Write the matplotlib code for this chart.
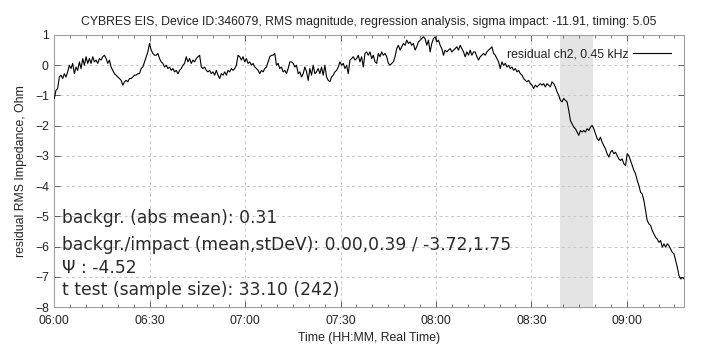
import numpy as np
import matplotlib
matplotlib.use("Agg")
import matplotlib.pyplot as plt
from matplotlib.ticker import MultipleLocator, FuncFormatter

# ---- data -------------------------------------------------------------
start_time = "06:00"
end_time = "09:18"
impact_start = "08:39"
impact_end = "08:49:20"

values = [
    # 06:00 - 06:32
    -1.10, -0.83, -0.77, -0.39, -0.33, -0.44, -0.28, -0.39, -0.22, 0.00,
    -0.11, 0.06, -0.28, -0.06, -0.17, 0.11, -0.11, 0.22, 0.00, 0.28,
    0.06, 0.22, 0.06, 0.28, 0.11, 0.17, 0.06, 0.22, 0.17, 0.28,
    0.33, 0.22, 0.06, 0.17, -0.06, -0.17, -0.28, -0.33, -0.39, -0.44,
    -0.50, -0.66, -0.55, -0.50, -0.55, -0.44, -0.44, -0.39, -0.33, -0.33,
    -0.28, -0.28, -0.11, -0.06, 0.11, 0.28, 0.44, 0.72, 0.50, 0.39,
    0.33, 0.33, 0.39,
    # 06:33 - 07:05
    0.22, 0.11, 0.06, -0.06, 0.00, -0.11, -0.06, -0.17, -0.11, -0.22,
    -0.17, -0.28, -0.17, -0.11, 0.00, 0.06, 0.28, 0.11, 0.22, 0.06,
    0.17, 0.11, 0.22, 0.28, 0.33, -0.06, -0.11, -0.06, -0.17, -0.22,
    -0.17, -0.28, -0.22, -0.33, -0.17, -0.33, -0.44, -0.28, -0.33, -0.22,
    -0.33, -0.17, -0.22, -0.11, -0.17, -0.11, 0.00, 0.33, 0.28, 0.17,
    0.28, 0.11, 0.22, 0.06, 0.11, 0.00, 0.06, -0.06, -0.11, -0.17,
    -0.28, -0.17, -0.22,
    # 07:06 - 07:38
    -0.11, -0.06, 0.11, 0.28, 0.33, 0.33, 0.39, 0.00, 0.06, -0.11,
    -0.06, -0.22, -0.17, -0.28, -0.11, 0.11, 0.11, 0.06, -0.06, 0.00,
    -0.28, -0.22, -0.39, -0.28, -0.06, -0.22, -0.50, -0.11, -0.33, 0.00,
    -0.28, -0.22, -0.11, -0.28, -0.06, -0.33, 0.00, -0.39, -0.50, -0.55,
    -0.39, -0.33, -0.22, -0.17, -0.06, 0.11, 0.00, 0.06, -0.11, 0.00,
    -0.28, 0.17, 0.22, 0.28, 0.17, 0.22, 0.33, 0.11, 0.28, -0.06,
    0.39, 0.44, 0.33,
    # 07:39 - 08:11
    0.44, 0.22, 0.33, 0.11, 0.06, 0.39, 0.28, 0.44, 0.33, 0.39,
    0.28, 0.06, 0.00, 0.06, 0.11, 0.28, 0.55, 0.66, 0.50, 0.61,
    0.72, 0.66, 0.83, 0.72, 0.77, 0.66, 0.72, 0.50, 0.61, 0.77,
    0.83, 0.88, 0.94, 0.88, 0.66, 0.83, 0.44, 0.72, 0.88, 0.94,
    0.77, 0.83, 0.66, 0.55, 0.33, 0.50, 0.44, 0.50, 0.55, 0.44,
    0.50, 0.55, 0.61, 0.50, 0.66, 0.55, 0.44, 0.28, 0.44, 0.33,
    0.50, 0.33, 0.44,
    # 08:12 - 08:41
    0.44, 0.28, 0.17, 0.28, 0.33, 0.39, 0.33, 0.44, 0.50, 0.55,
    0.61, 0.39, 0.33, 0.22, 0.11, -0.11, 0.11, 0.00, 0.06, -0.06,
    0.00, -0.11, -0.06, -0.17, -0.11, -0.22, -0.17, -0.28, -0.33, -0.44,
    -0.50, -0.55, -0.50, -0.61, -0.66, -0.77, -0.66, -0.72, -0.66, -0.61,
    -0.66, -0.61, -0.72, -0.61, -0.66, -0.72, -0.55, -0.61, -0.72, -0.88,
    -0.99, -1.16, -1.21, -1.10, -1.16, -1.21, -1.49,
    # 08:42 - 09:18
    -1.83, -1.94, -2.05, -2.10, -2.21, -2.32, -2.16, -2.21, -2.16, -2.21,
    -2.10, -2.16, -2.05, -1.99, -2.10, -2.27, -2.43, -2.49, -2.38, -2.55,
    -2.66, -2.77, -2.93, -3.04, -2.88, -2.82, -2.93, -2.88, -2.99, -3.10,
    -3.15, -3.10, -3.26, -3.32, -2.93, -2.99, -3.15, -3.32, -3.48, -3.59,
    -3.81, -3.98, -4.20, -4.26, -4.48, -4.81, -5.14, -5.25, -5.30, -5.47,
    -5.58, -5.69, -5.75, -5.86, -5.80, -6.02, -5.91, -6.02, -5.91, -5.97,
    -6.08, -6.19, -6.24, -6.46, -6.68, -6.96, -7.07, -7.02, -7.07,
]

x_tick_labels = ["06:00", "06:30", "07:00", "07:30", "08:00", "08:30", "09:00"]
y_ticks = [1, 0, -1, -2, -3, -4, -5, -6, -7, -8]

title = ("CYBRES EIS, Device ID:346079, RMS magnitude, regression analysis, "
         "sigma impact: -11.91, timing: 5.05")
legend_label = "residual ch2, 0.45 kHz"
stats_lines = [
    "backgr. (abs mean): 0.31",
    "backgr./impact (mean,stDeV): 0.00,0.39 / -3.72,1.75",
    "\u03a8 : -4.52",
    "t test (sample size): 33.10 (242)",
]


def to_min(s):
    parts = [int(p) for p in s.split(":")]
    h, m = parts[0], parts[1]
    sec = parts[2] if len(parts) > 2 else 0
    return h * 60 + m + sec / 60.0


t0 = to_min(start_time)
t1 = to_min(end_time)
minutes = np.linspace(t0, t1, len(values))

# ---- figure -----------------------------------------------------------
plt.rcParams['font.family'] = ['Liberation Sans', 'DejaVu Sans']
fig = plt.figure(figsize=(7.11, 3.45), dpi=100)
ax = fig.add_axes([0.0764, 0.110, 0.962 - 0.0764, 0.8986 - 0.110])

ax.axvspan(to_min(impact_start), to_min(impact_end), color="#e4e4e4", lw=0, zorder=0)
ax.plot(minutes, values, color="black", lw=0.8, label=legend_label, zorder=3)

ax.set_xlim(t0, t1)
ax.set_ylim(-8, 1)

ax.xaxis.set_major_locator(MultipleLocator(30))
ax.xaxis.set_minor_locator(MultipleLocator(5))
ax.xaxis.set_major_formatter(FuncFormatter(
    lambda v, p: "%02d:%02d" % (int(v // 60), int(round(v % 60)))))
ax.set_yticks(y_ticks)

gray = "#a0a0a0"
for s in ax.spines.values():
    s.set_color(gray)
    s.set_linewidth(0.8)
ax.tick_params(which="both", direction="in", top=True, right=True,
               color="#606060", labelsize=8.8, labelcolor="#222222")
ax.tick_params(axis="x", which="both", pad=5.5)
ax.tick_params(axis="y", which="both", pad=4)
ax.tick_params(which="major", length=4, width=0.7)
ax.tick_params(which="minor", length=2.5, width=0.6)

ax.grid(True, which="major", color="#c8c8c8", linestyle=(0, (3, 3)), lw=0.7, zorder=1)
ax.set_axisbelow(True)

ax.set_title(title, fontsize=8.8, color="#222222", pad=7)
ax.set_xlabel("Time (HH:MM, Real Time)", fontsize=8.8, color="#222222", labelpad=4)
ax.set_ylabel("residual RMS Impedance, Ohm", fontsize=8.8, color="#222222", labelpad=6)

leg = ax.legend(loc="upper right", frameon=False, markerfirst=False,
                fontsize=8.8, handlelength=3.1, handletextpad=0.35,
                borderaxespad=0.7, labelcolor="#222222")

ys = [0.327, 0.228, 0.143, 0.0625]
for txt, yy in zip(stats_lines, ys):
    ax.text(0.012, yy, txt, transform=ax.transAxes, fontsize=12.3,
            family=["DejaVu Sans"], color="#2a2a2a", va="center", ha="left", zorder=4)

fig.savefig("out.png", dpi=100)
